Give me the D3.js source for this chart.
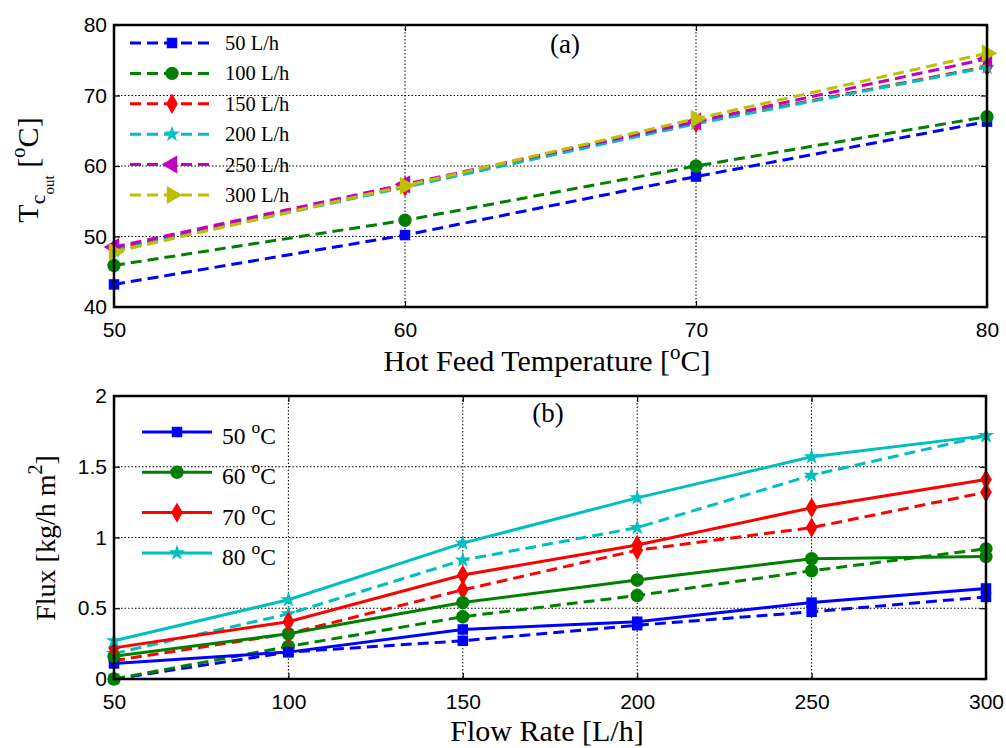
<!DOCTYPE html>
<html>
<head>
<meta charset="utf-8">
<script src="https://cdn.jsdelivr.net/npm/d3@7"></script>
<style>
  body { margin: 0; background: #fff; }
  .tick text { font-family: "Liberation Sans", Arial, sans-serif; font-size: 21px; fill: #000; }
  .ttl { font-family: "Liberation Serif", "Times New Roman", serif; fill: #000; }
</style>
</head>
<body>
<div id="chart"></div>
<script>
// ---- data ----
var hotTemps = [50, 60, 70, 80];
var flowNames = ["50 L/h", "100 L/h", "150 L/h", "200 L/h", "250 L/h", "300 L/h"];
var tc50 = [43.2, 50.2, 58.5, 66.3];
var tc100 = [45.9, 52.3, 60.0, 67.0];
var tc150 = [48.2, 57.1, 66.1, 74.1];
var tc200 = [48.0, 57.0, 66.0, 74.0];
var tc250 = [48.5, 57.4, 66.3, 75.2];
var tc300 = [47.8, 57.2, 66.7, 76.0];

var flowRates = [50, 100, 150, 200, 250, 300];
var fluxNames = ["50", "60", "70", "80"];
var fluxSolid50 = [0.11, 0.19, 0.35, 0.405, 0.54, 0.64];
var fluxSolid60 = [0.16, 0.32, 0.54, 0.70, 0.85, 0.865];
var fluxSolid70 = [0.22, 0.405, 0.735, 0.947, 1.21, 1.41];
var fluxSolid80 = [0.27, 0.56, 0.96, 1.28, 1.57, 1.72];
var fluxDash50 = [0.0, 0.19, 0.27, 0.38, 0.475, 0.58];
var fluxDash60 = [0.0, 0.23, 0.44, 0.59, 0.765, 0.92];
var fluxDash70 = [0.13, 0.32, 0.63, 0.91, 1.07, 1.32];
var fluxDash80 = [0.18, 0.46, 0.84, 1.07, 1.44, 1.72];

var topTicksX = [50, 60, 70, 80];
var topTicksY = [40, 50, 60, 70, 80];
var botTicksX = [50, 100, 150, 200, 250, 300];
var botTicksY = [0, 0.5, 1, 1.5, 2];

var width = 1006, height = 748;
var svg = d3.select("#chart").append("svg")
  .attr("width", width).attr("height", height);

function marker(g, type, cx, cy, color) {
  var m;
  if (type === "square") m = d3.symbol().type(d3.symbolSquare).size(110);
  else if (type === "circle") m = d3.symbol().type(d3.symbolCircle).size(140);
  else if (type === "diamond") m = d3.symbol().type(d3.symbolDiamond).size(120);
  else if (type === "star") m = d3.symbol().type(d3.symbolStar).size(80);
  else if (type === "left" || type === "right") m = d3.symbol().type(d3.symbolTriangle).size(140);
  var rot = type === "left" ? -90 : type === "right" ? 90 : 0;
  g.append("path")
    .attr("d", m())
    .attr("transform", "translate(" + cx + "," + cy + ") rotate(" + rot + ")")
    .attr("fill", color)
    .attr("stroke", "none");
}

function panel(cfg) {
  var x = d3.scaleLinear().domain(cfg.xDomain).range([cfg.left, cfg.right]);
  var y = d3.scaleLinear().domain(cfg.yDomain).range([cfg.bottom, cfg.top]);
  var g = svg.append("g");

  // grid
  g.append("g").selectAll("line").data(cfg.xTicks.slice(1, -1)).enter().append("line")
    .attr("x1", function(d) { return x(d); }).attr("x2", function(d) { return x(d); })
    .attr("y1", cfg.top).attr("y2", cfg.bottom)
    .attr("stroke", "#000").attr("stroke-width", 1).attr("stroke-dasharray", "1.5,2");
  g.append("g").selectAll("line").data(cfg.yTicks.slice(1, -1)).enter().append("line")
    .attr("y1", function(d) { return y(d); }).attr("y2", function(d) { return y(d); })
    .attr("x1", cfg.left).attr("x2", cfg.right)
    .attr("stroke", "#000").attr("stroke-width", 1).attr("stroke-dasharray", "1.5,2");

  // axes (inward ticks)
  var ax = g.append("g").attr("transform", "translate(0," + cfg.bottom + ")")
    .call(d3.axisBottom(x).tickValues(cfg.xTicks).tickSizeInner(-6).tickSizeOuter(0).tickPadding(17));
  g.append("g").attr("transform", "translate(" + cfg.left + ",0)")
    .call(d3.axisLeft(y).tickValues(cfg.yTicks).tickSizeInner(-6).tickSizeOuter(0).tickPadding(7)
      .tickFormat(d3.format("")));
  g.append("g").attr("transform", "translate(0," + cfg.top + ")")
    .call(d3.axisTop(x).tickValues(cfg.xTicks).tickSizeInner(-6).tickSizeOuter(0).tickFormat(""));
  g.append("g").attr("transform", "translate(" + cfg.right + ",0)")
    .call(d3.axisRight(y).tickValues(cfg.yTicks).tickSizeInner(-6).tickSizeOuter(0).tickFormat(""));
  g.selectAll(".domain").remove();
  g.selectAll(".tick line").attr("stroke", "#000").attr("stroke-width", 1.2);
  g.selectAll(".tick text").style("font-family", "Liberation Sans, Arial, sans-serif").style("font-size", "21px");
  ax.selectAll(".tick text").attr("dy", "0.6em");

  // series
  var line = d3.line().x(function(d) { return x(d[0]); }).y(function(d) { return y(d[1]); });
  cfg.series.forEach(function(s) {
    var pts = cfg.xs.map(function(v, i) { return [v, s.values[i]]; });
    g.append("path").datum(pts)
      .attr("d", line).attr("fill", "none")
      .attr("stroke", s.color).attr("stroke-width", 3)
      .attr("stroke-dasharray", s.dashed ? "11,6" : null);
    pts.forEach(function(p) { marker(g, s.marker, x(p[0]), y(p[1]), s.color); });
  });

  // frame
  g.append("rect").attr("x", cfg.left).attr("y", cfg.top)
    .attr("width", cfg.right - cfg.left).attr("height", cfg.bottom - cfg.top)
    .attr("fill", "none").attr("stroke", "#000").attr("stroke-width", 2.5);

  // legend
  var L = cfg.legend;
  L.items.forEach(function(it, i) {
    var ly = L.y0 + i * L.dy;
    g.append("line").attr("x1", L.x1).attr("x2", L.x2)
      .attr("y1", ly).attr("y2", ly).attr("stroke", it.color).attr("stroke-width", 3)
      .attr("stroke-dasharray", it.dashed ? "11,6" : null);
    marker(g, it.marker, (L.x1 + L.x2) / 2, ly, it.color);
    var t = g.append("text").attr("class", "ttl").attr("x", L.tx).attr("y", ly + L.off)
      .style("font-size", L.fs + "px");
    if (it.sup) {
      t.append("tspan").text(it.label + " ");
      t.append("tspan").attr("dy", -11).style("font-size", (L.fs - 6) + "px").text("o");
      t.append("tspan").attr("dy", 11).text("C");
    } else {
      t.text(it.label);
    }
  });
  return { x: x, y: y, g: g };
}

var colors = ["#0000ff", "#008000", "#ff0000", "#00bfbf", "#bf00bf", "#bfbf00"];
var topMarkers = ["square", "circle", "diamond", "star", "left", "right"];
var topVals = [tc50, tc100, tc150, tc200, tc250, tc300];

panel({
  left: 114, right: 987, top: 25, bottom: 307,
  xDomain: [50, 80], yDomain: [40, 80],
  xTicks: topTicksX, yTicks: topTicksY, xs: hotTemps,
  series: topVals.map(function(v, i) {
    return { values: v, color: colors[i], marker: topMarkers[i], dashed: true };
  }),
  legend: {
    x1: 130, x2: 214, tx: 225, y0: 43, dy: 30.4, fs: 20.5, off: 7,
    items: flowNames.map(function(n, i) {
      return { label: n, color: colors[i], marker: topMarkers[i], dashed: true };
    })
  }
});

var botMarkers = ["square", "circle", "diamond", "star"];
var solid = [fluxSolid50, fluxSolid60, fluxSolid70, fluxSolid80];
var dash = [fluxDash50, fluxDash60, fluxDash70, fluxDash80];
var botSeries = [];
dash.forEach(function(v, i) { botSeries.push({ values: v, color: colors[i], marker: botMarkers[i], dashed: true }); });
solid.forEach(function(v, i) { botSeries.push({ values: v, color: colors[i], marker: botMarkers[i], dashed: false }); });

panel({
  left: 114, right: 986, top: 396, bottom: 679,
  xDomain: [50, 300], yDomain: [0, 2],
  xTicks: botTicksX, yTicks: botTicksY, xs: flowRates,
  series: botSeries,
  legend: {
    x1: 142, x2: 212, tx: 222, y0: 432, dy: 40.3, fs: 23.5, off: 12,
    items: fluxNames.map(function(n, i) {
      return { label: n, color: colors[i], marker: botMarkers[i], dashed: false, sup: true };
    })
  }
});

// panel labels
svg.append("text").attr("class", "ttl").attr("x", 565).attr("y", 53)
  .attr("text-anchor", "middle").style("font-size", "27px").text("(a)");
svg.append("text").attr("class", "ttl").attr("x", 548).attr("y", 422)
  .attr("text-anchor", "middle").style("font-size", "27px").text("(b)");

// x titles
var xt1 = svg.append("text").attr("class", "ttl").attr("x", 547).attr("y", 371)
  .attr("text-anchor", "middle").style("font-size", "30px");
xt1.append("tspan").text("Hot Feed Temperature [");
xt1.append("tspan").attr("dy", -12).style("font-size", "21px").text("o");
xt1.append("tspan").attr("dy", 12).text("C]");

svg.append("text").attr("class", "ttl").attr("x", 547).attr("y", 741)
  .attr("text-anchor", "middle").style("font-size", "30px").text("Flow Rate [L/h]");

// y titles
var yt1 = svg.append("text").attr("class", "ttl")
  .attr("transform", "translate(38,170) rotate(-90)")
  .attr("text-anchor", "middle").style("font-size", "30px");
yt1.append("tspan").text("T");
yt1.append("tspan").attr("dy", 7).style("font-size", "22px").text("c");
yt1.append("tspan").attr("dy", 9).style("font-size", "15px").text("out");
yt1.append("tspan").attr("dy", -16).text(" [");
yt1.append("tspan").attr("dy", -13).style("font-size", "21px").text("o");
yt1.append("tspan").attr("dy", 13).text("C]");

var yt2 = svg.append("text").attr("class", "ttl")
  .attr("transform", "translate(55,538) rotate(-90)")
  .attr("text-anchor", "middle").style("font-size", "28px");
yt2.append("tspan").text("Flux [kg/h m");
yt2.append("tspan").attr("dy", -13).style("font-size", "20px").text("2");
yt2.append("tspan").attr("dy", 13).text("]");
</script>
</body>
</html>
